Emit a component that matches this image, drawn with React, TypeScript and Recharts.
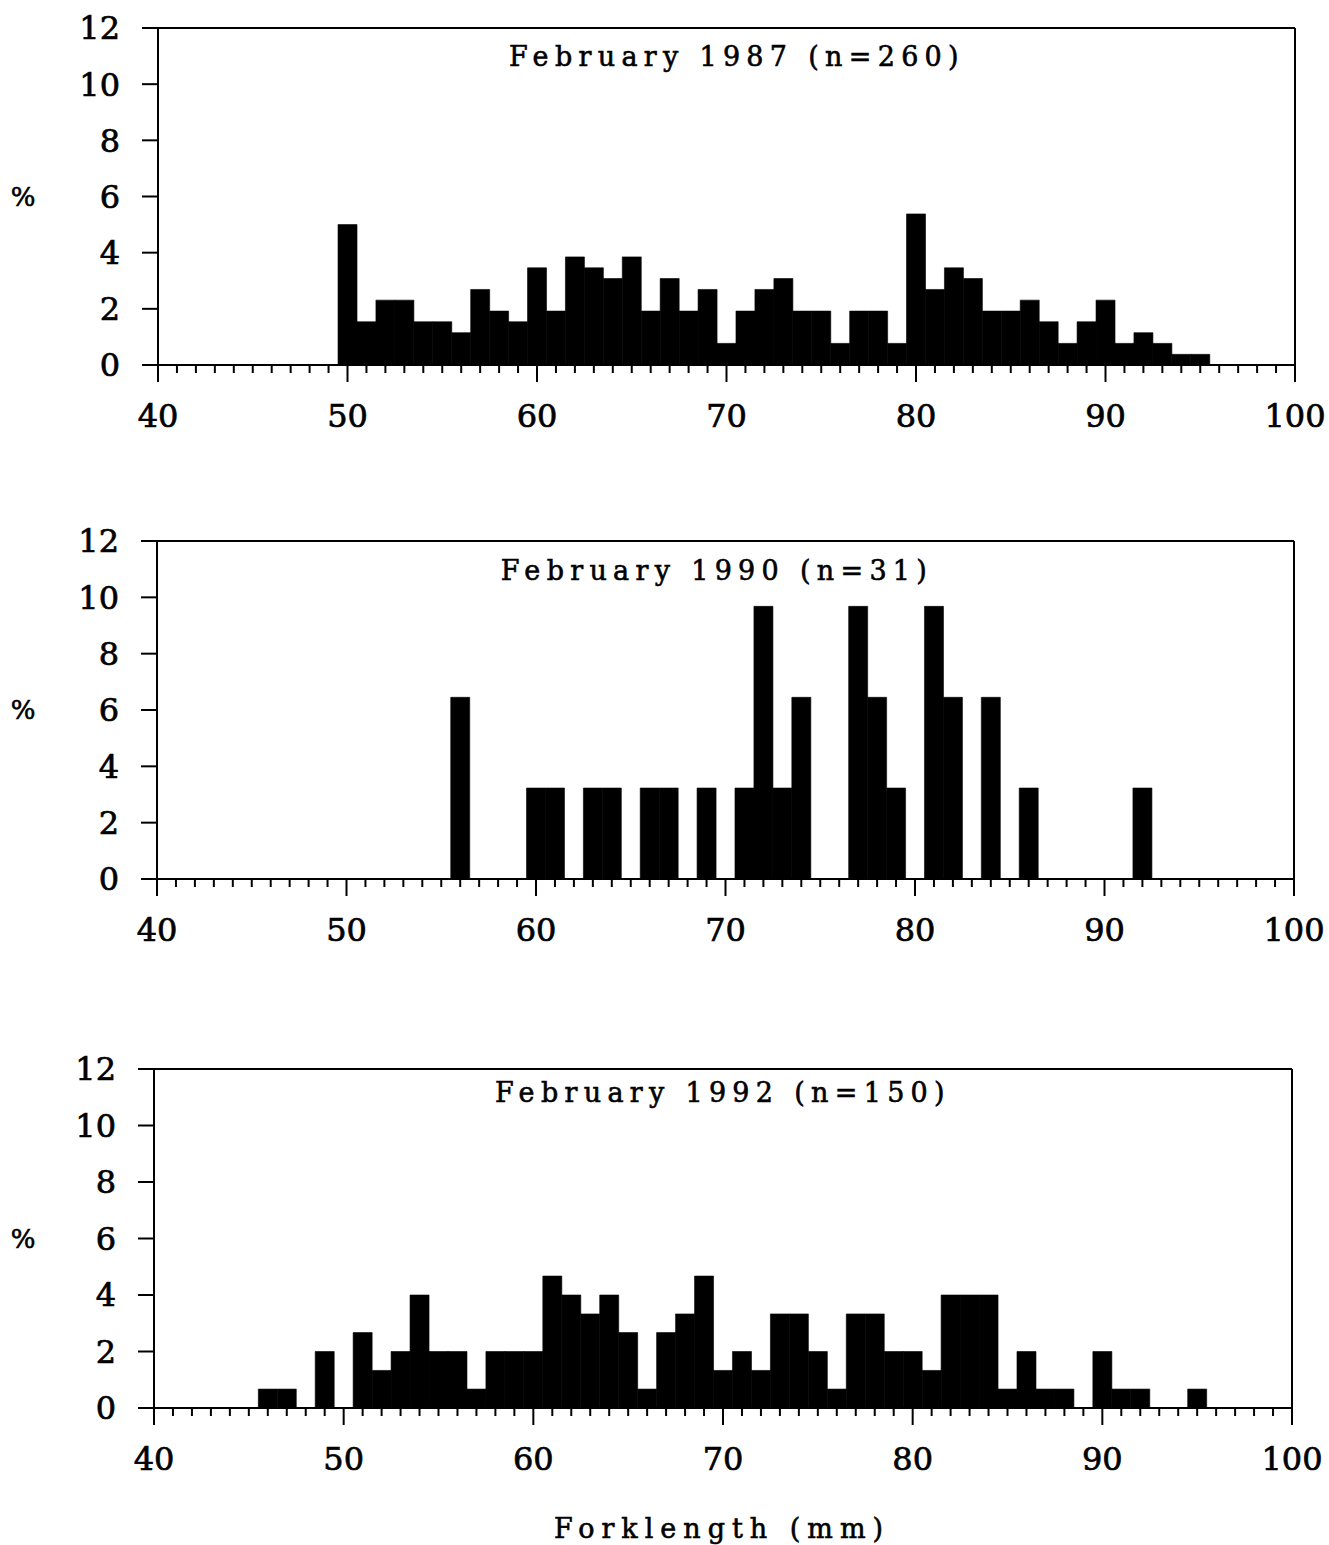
import React from "react";
import { BarChart, Bar, XAxis, YAxis, ReferenceLine } from "recharts";

// Forklength classes (1 mm bins, centred on the integer)
const lengths = [
  46, 47, 48, 49, 50, 51, 52, 53, 54, 55, 56, 57, 58, 59, 60, 61, 62, 63, 64, 65,
  66, 67, 68, 69, 70, 71, 72, 73, 74, 75, 76, 77, 78, 79, 80, 81, 82, 83, 84, 85,
  86, 87, 88, 89, 90, 91, 92, 93, 94, 95,
];

// Percent of the sample per class
const pct1987 = [
  0, 0, 0, 0, 5.0, 1.54, 2.31, 2.31, 1.54, 1.54, 1.15, 2.69, 1.92, 1.54, 3.46, 1.92, 3.85, 3.46, 3.08, 3.85,
  1.92, 3.08, 1.92, 2.69, 0.77, 1.92, 2.69, 3.08, 1.92, 1.92, 0.77, 1.92, 1.92, 0.77, 5.38, 2.69, 3.46, 3.08, 1.92, 1.92,
  2.31, 1.54, 0.77, 1.54, 2.31, 0.77, 1.15, 0.77, 0.38, 0.38,
];
const pct1990 = [
  0, 0, 0, 0, 0, 0, 0, 0, 0, 0, 6.45, 0, 0, 0, 3.23, 3.23, 0, 3.23, 3.23, 0,
  3.23, 3.23, 0, 3.23, 0, 3.23, 9.68, 3.23, 6.45, 0, 0, 9.68, 6.45, 3.23, 0, 9.68, 6.45, 0, 6.45, 0,
  3.23, 0, 0, 0, 0, 0, 3.23, 0, 0, 0,
];
const pct1992 = [
  0.67, 0.67, 0, 2.0, 0, 2.67, 1.33, 2.0, 4.0, 2.0, 2.0, 0.67, 2.0, 2.0, 2.0, 4.67, 4.0, 3.33, 4.0, 2.67,
  0.67, 2.67, 3.33, 4.67, 1.33, 2.0, 1.33, 3.33, 3.33, 2.0, 0.67, 3.33, 3.33, 2.0, 2.0, 1.33, 4.0, 4.0, 4.0, 0.67,
  2.0, 0.67, 0.67, 0, 2.0, 0.67, 0.67, 0, 0, 0.67,
];

const titles = ["February 1987 (n=260)", "February 1990 (n=31)", "February 1992 (n=150)"];
const yTicks = [0, 2, 4, 6, 8, 10, 12];
const xMin = 40;
const xMax = 100;

// every millimetre gets a tick, every 10 mm a labelled long one
const xTicks: number[] = [];
for (let v = xMin; v <= xMax; v++) xTicks.push(v);

const FONT = "'DejaVu Serif', serif";
const W = 1329;
const AXIS_H = 90;
const TOP_PAD = 40;

const panels = [
  { title: titles[0], values: pct1987, top: 28, bottom: 365, left: 158, right: 1295, titleX: 737, titleY: 66 },
  { title: titles[1], values: pct1990, top: 541, bottom: 879, left: 157, right: 1294, titleX: 717, titleY: 580 },
  { title: titles[2], values: pct1992, top: 1069, bottom: 1408, left: 154, right: 1292, titleX: 723, titleY: 1102 },
];

const XTick = (props: any) => {
  const { x, y, payload } = props;
  const major = payload.value % 10 === 0;
  return (
    <g>
      <line x1={x} x2={x} y1={y} y2={y + (major ? 17 : 8)} stroke="#000" strokeWidth={2} />
      {major && (
        <text x={x} y={y + 62} textAnchor="middle" fontSize={32} fontFamily={FONT} fill="#000" stroke="#000" strokeWidth={0.7}>
          {payload.value}
        </text>
      )}
    </g>
  );
};

const Panel = ({ p }: { p: (typeof panels)[number] }) => {
  const data = lengths.map((len, i) => ({ len, pct: p.values[i] }));
  const plotH = p.bottom - p.top;
  return (
    <div style={{ position: "absolute", left: 0, top: p.top - TOP_PAD }}>
      <BarChart
        width={W}
        height={TOP_PAD + plotH + AXIS_H}
        data={data}
        margin={{ top: TOP_PAD, right: W - p.right, bottom: 0, left: p.left - 100 }}
        barCategoryGap={0}
        barGap={0}
      >
        <XAxis
          type="number"
          dataKey="len"
          domain={[xMin, xMax]}
          ticks={xTicks}
          interval={0}
          tickSize={0}
          tickMargin={0}
          tickLine={false}
          tick={(t: any) => <XTick {...t} />}
          axisLine={{ stroke: "#000", strokeWidth: 2 }}
          height={AXIS_H}
        />
        <YAxis
          type="number"
          domain={[0, 12]}
          ticks={yTicks}
          interval={0}
          width={100}
          tickSize={16}
          tickMargin={22}
          axisLine={{ stroke: "#000", strokeWidth: 2 }}
          tickLine={{ stroke: "#000", strokeWidth: 2 }}
          tick={{ fill: "#000", fontSize: 32, fontFamily: FONT, stroke: "#000", strokeWidth: 0.7 }}
        />
        {/* frame: top and right edges */}
        <ReferenceLine y={12} stroke="#000" strokeWidth={2} />
        <ReferenceLine x={100} stroke="#000" strokeWidth={2} />
        <Bar dataKey="pct" fill="#000" stroke="#000" strokeWidth={0.6} isAnimationActive={false} />
      </BarChart>
    </div>
  );
};

export default function App() {
  return (
    <div style={{ position: "absolute", left: 0, top: 0, width: W, height: 1545, background: "#fff" }}>
      {panels.map((p, i) => (
        <Panel key={i} p={p} />
      ))}
      <svg
        width={W}
        height={1545}
        style={{ position: "absolute", left: 0, top: 0, pointerEvents: "none" }}
      >
        {panels.map((p, i) => (
          <g key={i} fontFamily={FONT} fill="#000" stroke="#000" strokeWidth={0.6}>
            <text x={p.titleX} y={p.titleY} textAnchor="middle" fontSize={27} letterSpacing={6.3}>
              {p.title}
            </text>
            <text x={23} y={p.bottom - 6 * ((p.bottom - p.top) / 12) + 9} textAnchor="middle" fontSize={26}>
              %
            </text>
          </g>
        ))}
        <text
          x={722}
          y={1538}
          textAnchor="middle"
          fontSize={27}
          letterSpacing={7}
          fontFamily={FONT}
          fill="#000"
          stroke="#000"
          strokeWidth={0.6}
        >
          Forklength (mm)
        </text>
      </svg>
    </div>
  );
}
